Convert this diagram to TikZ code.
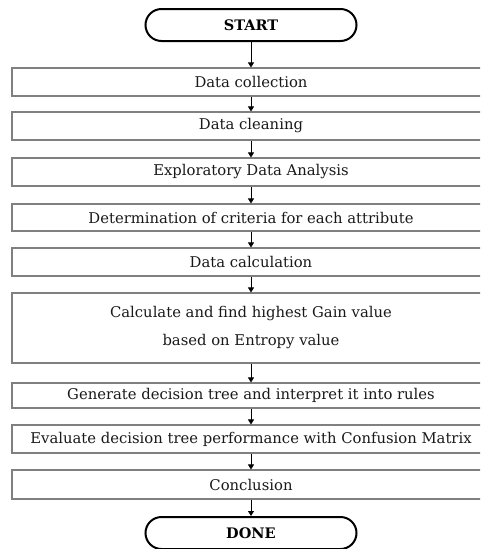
\documentclass[tikz,border=0pt]{standalone}
\usepackage{fontspec}
\setmainfont{DejaVu Serif}
\usetikzlibrary{arrows.meta}

\begin{document}
\begin{tikzpicture}[x=1pt, y=-1pt,
	stepbox/.style={draw=black!50, line width=1.1pt, minimum width=478pt, inner sep=0pt, align=center, text=black!90, font=\fontsize{14.8}{28}\selectfont},
	endbox/.style={draw=black, line width=2pt, rounded corners=16pt, minimum width=211pt, minimum height=32pt, text=black, font=\fontsize{14.5}{18}\selectfont\bfseries},
	flow/.style={-{Triangle[length=5pt,width=6pt]}, line width=0.8pt}]
	\useasboundingbox (0, 0) rectangle (480, 549);
	\clip (0, 0) rectangle (480, 549);
	\node [endbox] (0) at (251, 25) {START};
	\node [stepbox, minimum height=28pt] (1) at (251, 82) {Data collection};
	\node [stepbox, minimum height=28pt] (2) at (251, 126) {Data cleaning};
	\node [stepbox, minimum height=28pt] (3) at (251, 172) {Exploratory Data Analysis};
	\node [stepbox, minimum height=27pt] (4) at (251, 217.5) {Determination of criteria for each attribute};
	\node [stepbox, minimum height=28pt] (5) at (251, 262) {Data calculation};
	\node [stepbox, minimum height=70pt] (6) at (251, 328) {Calculate and find highest Gain value\\based on Entropy value};
	\node [stepbox, minimum height=25pt] (7) at (251, 395.5) {Generate decision tree and interpret it into rules};
	\node [stepbox, minimum height=28pt] (8) at (251, 439) {Evaluate decision tree performance with Confusion Matrix};
	\node [stepbox, minimum height=29pt] (9) at (251, 484.5) {Conclusion};
	\node [endbox] (10) at (251, 533) {DONE};
	\draw [flow] (0) to (1);
	\draw [flow] (1) to (2);
	\draw [flow] (2) to (3);
	\draw [flow] (3) to (4);
	\draw [flow] (4) to (5);
	\draw [flow] (5) to (6);
	\draw [flow] (6) to (7);
	\draw [flow] (7) to (8);
	\draw [flow] (8) to (9);
	\draw [flow] (9) to (10);
\end{tikzpicture}
\end{document}
